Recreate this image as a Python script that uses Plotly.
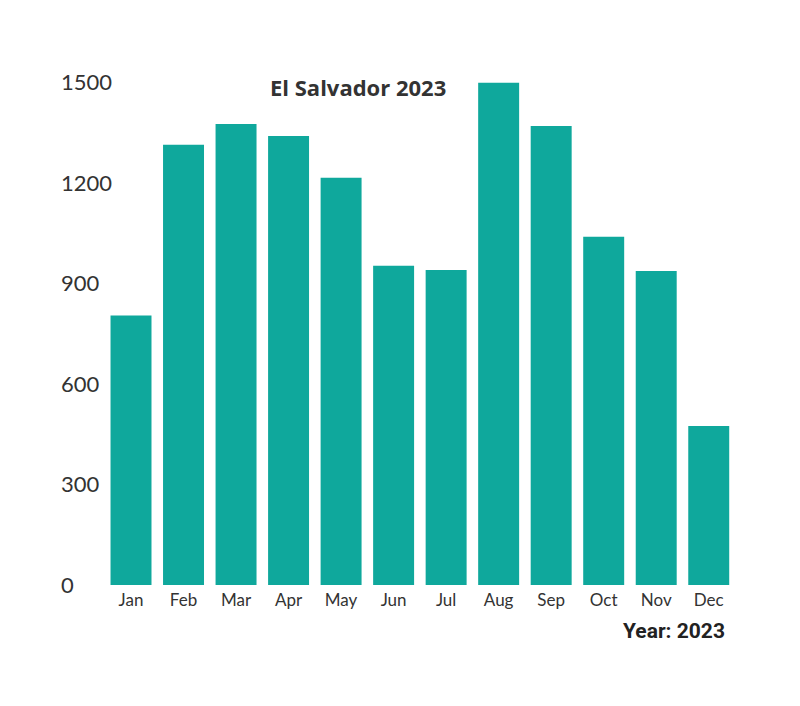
import plotly.graph_objects as go

months = ["Jan", "Feb", "Mar", "Apr", "May", "Jun", "Jul", "Aug", "Sep", "Oct", "Nov", "Dec"]
values = [805, 1315, 1377, 1341, 1216, 953, 941, 1500, 1371, 1040, 938, 475]
y_ticks = [0, 300, 600, 900, 1200, 1500]
title_text = "El Salvador 2023"
x_title_text = "Year: 2023"

fig = go.Figure()
fig.add_trace(go.Bar(
    x=list(range(len(months))), y=values,
    marker=dict(color="#0fa89c", line=dict(width=0)),
    width=0.78,
))

W, H = 800, 706
ml, mr, mt, mb = 50, 73, 68, 129
OFF = 8  # page body margin
pw, ph = W - ml - mr, H - mt - mb

def px(xp):
    return (xp - OFF - ml) / pw

def py(yp):
    return 1 - (yp - OFF - mt) / ph

fig.update_layout(
    width=W, height=H,
    margin=dict(l=ml, r=mr, t=mt, b=mb),
    paper_bgcolor="white", plot_bgcolor="white",
    showlegend=False,
    font=dict(family="Lato, sans-serif", color="#333"),
    xaxis=dict(
        range=[-1.39, 11.5],
        tickmode="array", tickvals=list(range(len(months))), ticktext=months,
        showgrid=False, zeroline=False, showline=False, ticks="",
        ticklabelstandoff=3,
        tickfont=dict(size=17, color="#333"),
    ),
    yaxis=dict(
        range=[0, 1520],
        tickmode="array", tickvals=y_ticks,
        ticklabelposition="inside",
        ticklabeloverflow="allow",
        showgrid=False, zeroline=False, showline=False, ticks="",
        tickfont=dict(size=22, color="#333"),
    ),
    annotations=[
        dict(text="<b>" + title_text + "</b>", xref="paper", yref="paper",
             x=px(358), y=py(87),
             xanchor="center", yanchor="middle", showarrow=False,
             font=dict(size=22, color="#333", family="Open Sans, sans-serif")),
        dict(text="<b>" + x_title_text + "</b>", xref="paper", yref="paper",
             x=px(727), y=py(631),
             xanchor="right", yanchor="middle", showarrow=False,
             font=dict(size=21, color="#222", family="Roboto, sans-serif")),
    ],
)

fig.write_html("out.html")
